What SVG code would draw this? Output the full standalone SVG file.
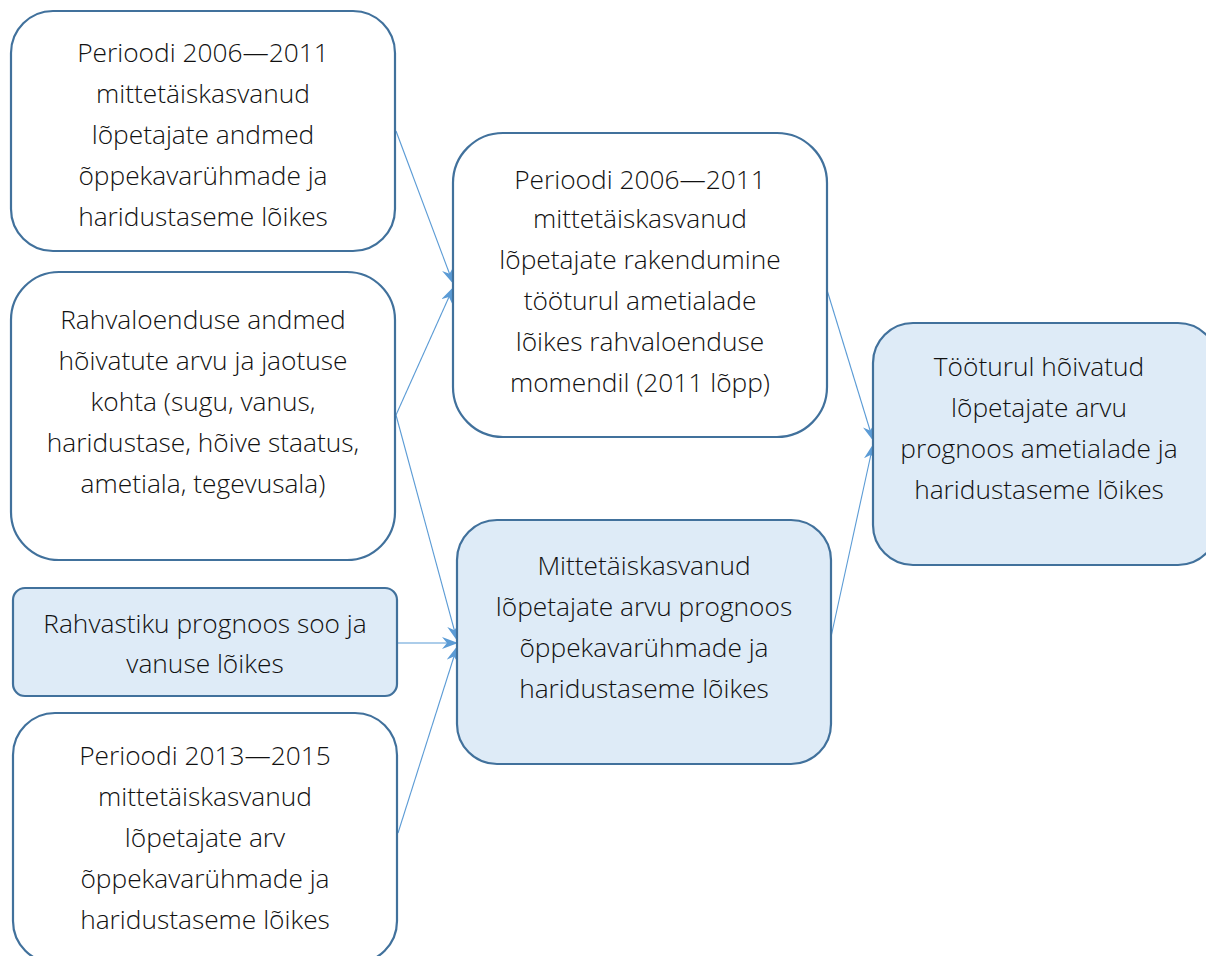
<svg xmlns="http://www.w3.org/2000/svg" width="1206" height="956" viewBox="0 0 1206 956">
<defs>
<style>
.box{stroke:#41719C;stroke-width:2.2;}
.w{fill:#FFFFFF;}
.b{fill:#DEEBF7;}
text{font-family:"Open Sans","Lato",sans-serif;font-weight:300;font-size:26.3px;fill:#111111;text-anchor:middle;}
.c{stroke:#5B9BD5;stroke-width:1.1;fill:none;marker-end:url(#ah);}
</style>
<marker id="ah" viewBox="0 0 16 12" refX="15" refY="6" markerWidth="16" markerHeight="12" markerUnits="userSpaceOnUse" orient="auto">
<path d="M0,0 L16,6 L0,12 L5,6 Z" fill="#5B9BD5"/>
</marker>
</defs>
<rect width="1206" height="956" fill="#FFFFFF"/>
<g id="connectors">
<line class="c" x1="396" y1="131" x2="453" y2="283"/>
<line class="c" x1="396" y1="415" x2="453" y2="288"/>
<line class="c" x1="396" y1="415" x2="457" y2="640"/>
<line class="c" x1="398" y1="643" x2="457" y2="643"/>
<line class="c" x1="398" y1="833" x2="457" y2="647"/>
<line class="c" x1="827" y1="290" x2="873" y2="440"/>
<line class="c" x1="831" y1="637" x2="873" y2="445"/>
</g>
<g id="n1">
<rect class="box w" x="11" y="11" width="384" height="240" rx="42"/>
<text x="203" y="62">Perioodi 2006—2011</text>
<text x="203" y="103">mittetäiskasvanud</text>
<text x="203" y="144">lõpetajate andmed</text>
<text x="203" y="185">õppekavarühmade ja</text>
<text x="203" y="226">haridustaseme lõikes</text>
</g>
<g id="n2">
<rect class="box w" x="11" y="272" width="384" height="288" rx="48"/>
<text x="203" y="329">Rahvaloenduse andmed</text>
<text x="203" y="370">hõivatute arvu ja jaotuse</text>
<text x="203" y="411">kohta (sugu, vanus,</text>
<text x="203" y="452">haridustase, hõive staatus,</text>
<text x="203" y="493">ametiala, tegevusala)</text>
</g>
<g id="n3">
<rect class="box b" x="13" y="588" width="384" height="108" rx="12"/>
<text x="205" y="633">Rahvastiku prognoos soo ja</text>
<text x="205" y="673">vanuse lõikes</text>
</g>
<g id="n4">
<rect class="box w" x="13" y="713" width="384" height="250" rx="42"/>
<text x="205" y="765">Perioodi 2013—2015</text>
<text x="205" y="806">mittetäiskasvanud</text>
<text x="205" y="847">lõpetajate arv</text>
<text x="205" y="888">õppekavarühmade ja</text>
<text x="205" y="929">haridustaseme lõikes</text>
</g>
<g id="n5">
<rect class="box w" x="453" y="133" width="374" height="304" rx="50"/>
<text x="640" y="189">Perioodi 2006—2011</text>
<text x="640" y="228">mittetäiskasvanud</text>
<text x="640" y="269">lõpetajate rakendumine</text>
<text x="640" y="310">tööturul ametialade</text>
<text x="640" y="351">lõikes rahvaloenduse</text>
<text x="640" y="392">momendil (2011 lõpp)</text>
</g>
<g id="n6">
<rect class="box b" x="457" y="520" width="374" height="244" rx="40"/>
<text x="644" y="575">Mittetäiskasvanud</text>
<text x="644" y="616">lõpetajate arvu prognoos</text>
<text x="644" y="657">õppekavarühmade ja</text>
<text x="644" y="698">haridustaseme lõikes</text>
</g>
<g id="n7">
<rect class="box b" x="873" y="323" width="345" height="242" rx="40"/>
<text x="1039" y="376">Tööturul hõivatud</text>
<text x="1039" y="417">lõpetajate arvu</text>
<text x="1039" y="458">prognoos ametialade ja</text>
<text x="1039" y="499">haridustaseme lõikes</text>
</g>
</svg>
